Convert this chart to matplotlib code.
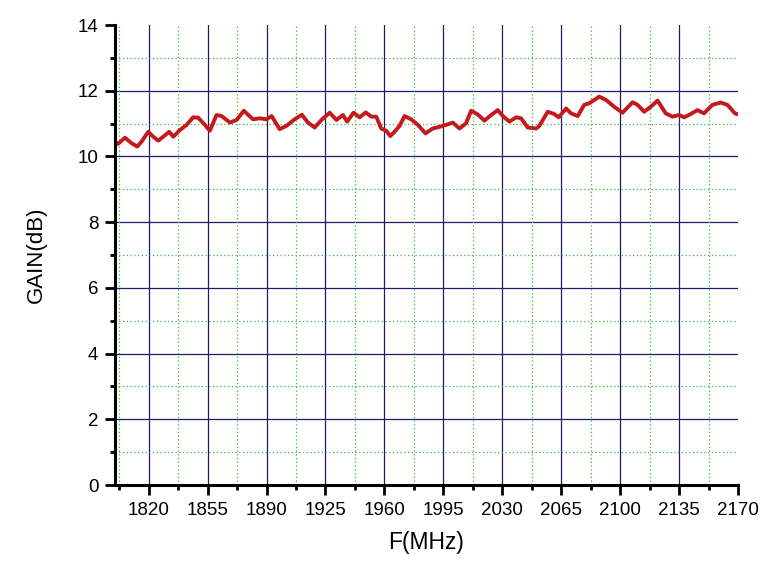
import matplotlib
matplotlib.use("Agg")
import matplotlib.pyplot as plt
import numpy as np
from matplotlib.ticker import MultipleLocator, FixedLocator

freq = [1800, 1801.8, 1805.9, 1809.9, 1813.2, 1815.8, 1819.7, 1822.7, 1825.7, 1828.6,
        1832.2, 1834.6, 1838.5, 1842.5, 1846.4, 1849.4, 1853.4, 1856.3, 1860.3, 1863.3,
        1868.2, 1872.2, 1876.5, 1882.0, 1886.0, 1890.0, 1893.0, 1897.8, 1901.8, 1906.7,
        1911.0, 1914.6, 1918.6, 1922.6, 1927.5, 1931.5, 1935.4, 1937.8, 1941.7, 1945.3,
        1948.9, 1952.2, 1955.2, 1958.1, 1961.1, 1963.5, 1966.0, 1969.0, 1972.0, 1975.9,
        1979.9, 1984.4, 1988.7, 1992.7, 1996.6, 2000.6, 2004.6, 2008.5, 2011.5, 2015.4,
        2019.4, 2023.4, 2027.3, 2030.3, 2034.2, 2038.2, 2041.2, 2045.1, 2050.1, 2052.0,
        2057.0, 2060.9, 2063.5, 2067.9, 2070.8, 2074.8, 2078.7, 2081.7, 2087.6, 2091.6,
        2096.5, 2101.4, 2107.4, 2110.3, 2114.3, 2118.2, 2122.2, 2127.1, 2131.1, 2135.0,
        2138.0, 2141.9, 2145.9, 2149.8, 2154.8, 2159.7, 2163.7, 2168.2, 2170.0]
gain = [10.45, 10.38, 10.57, 10.40, 10.30, 10.45, 10.75, 10.60, 10.48, 10.60,
        10.75, 10.60, 10.80, 10.96, 11.19, 11.18, 10.96, 10.78, 11.26, 11.23,
        11.03, 11.11, 11.39, 11.13, 11.16, 11.13, 11.23, 10.83, 10.93, 11.13,
        11.27, 11.03, 10.88, 11.11, 11.33, 11.11, 11.26, 11.06, 11.33, 11.19,
        11.34, 11.21, 11.21, 10.85, 10.78, 10.62, 10.75, 10.93, 11.23, 11.13,
        10.96, 10.70, 10.85, 10.90, 10.96, 11.03, 10.85, 11.01, 11.39, 11.28,
        11.09, 11.26, 11.41, 11.23, 11.06, 11.19, 11.16, 10.88, 10.85, 10.93,
        11.36, 11.29, 11.19, 11.46, 11.31, 11.23, 11.57, 11.62, 11.82, 11.72,
        11.51, 11.33, 11.65, 11.57, 11.36, 11.51, 11.70, 11.31, 11.21, 11.26,
        11.19, 11.29, 11.41, 11.31, 11.57, 11.64, 11.57, 11.31, 11.28]

x_ticks = [1820, 1855, 1890, 1925, 1960, 1995, 2030, 2065, 2100, 2135, 2170]
y_ticks = [0, 2, 4, 6, 8, 10, 12, 14]
x_minor = list(np.arange(1802.5, 2170, 35))
y_minor = [1, 3, 5, 7, 9, 11, 13]

plt.rcParams['font.family'] = ['Liberation Sans', 'DejaVu Sans']

fig = plt.figure(figsize=(7.63, 5.63), dpi=100)
ax = fig.add_axes([115/763, 78/563, (738-115)/763, (485-25)/563])

# grid lines (interior only, as in the reference)
for xv in x_ticks[:-1]:
    ax.axvline(xv, color='#1c1c6a', lw=0.9, zorder=1)
for yv in y_ticks[1:-1]:
    ax.axhline(yv, color='#1c1c6a', lw=0.9, zorder=1)
for xv in x_minor:
    ax.axvline(xv, color='#3cb43c', lw=0.9, ls=(0, (1, 2)), zorder=1)
for yv in y_minor:
    ax.axhline(yv, color='#3cb43c', lw=0.9, ls=(0, (1, 2)), zorder=1)

ax.plot(freq, gain, color='#c41a1e', lw=2.8, solid_joinstyle='round',
        solid_capstyle='round', zorder=5)

ax.set_xlim(1800, 2170)
ax.set_ylim(0, 14)
ax.set_xticks(x_ticks)
ax.set_yticks(y_ticks)
ax.xaxis.set_minor_locator(FixedLocator(x_minor))
ax.yaxis.set_minor_locator(FixedLocator(y_minor))

for s in ['top', 'right']:
    ax.spines[s].set_visible(False)
for s in ['left', 'bottom']:
    ax.spines[s].set_linewidth(2.2)
    ax.spines[s].set_zorder(6)

ax.tick_params(which='major', direction='out', length=7, width=2, labelsize=13.5, pad=5)
ax.tick_params(which='minor', direction='out', length=3.5, width=2)

ax.set_xlabel('F(MHz)', fontsize=16.5)
ax.set_ylabel('GAIN(dB)', fontsize=16)
ax.xaxis.set_label_coords(0.5, (485 - 542) / 460, transform=ax.transAxes)
ax.yaxis.set_label_coords((36 - 115) / 623, 0.5, transform=ax.transAxes)
ax.xaxis.label.set_va('center')
ax.yaxis.label.set_va('center')

fig.savefig('out.png', dpi=100)
